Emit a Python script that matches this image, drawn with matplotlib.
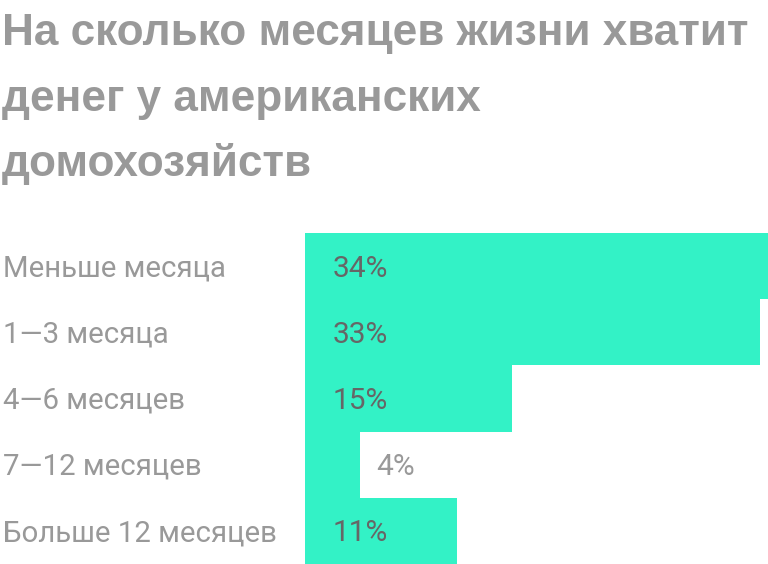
import matplotlib.pyplot as plt
import matplotlib.transforms as mtransforms

plt.rcParams['font.family'] = ['Roboto', 'DejaVu Sans']

title_lines = ["На сколько месяцев жизни хватит",
               "денег у американских",
               "домохозяйств"]
categories = ["Меньше месяца", "1—3 месяца", "4—6 месяцев",
              "7—12 месяцев", "Больше 12 месяцев"]
shares = [34, 33, 15, 4, 11]

W, H = 768, 564
bar_color = "#33F2C6"
gray = "#999999"
dark = "#666666"

fig = plt.figure(figsize=(W / 100, H / 100), dpi=100)
fig.patch.set_facecolor("white")

# plot area: bars start at x=305px, top of first bar at 233px
px_per_pct = 13.8
left = 305 / W
top = 233 / H
ax = fig.add_axes([left, 0, 1 - left, 1 - top])
ax.set_xlim(0, (W - 305) / px_per_pct)
ax.set_ylim(len(shares) - 0.5, -0.5)
ax.axis("off")

ypos = list(range(len(shares)))
ax.barh(ypos, shares, height=1.0, color=bar_color, linewidth=0)

# title
for i, line in enumerate(title_lines):
    fig.text(2 / W, 1 - (45.5 + 65.2 * i) / H, line, fontsize=31.8,
             fontweight="bold", color=gray, va="baseline", ha="left",
             family=["Liberation Sans", "DejaVu Sans"])

# category labels, baseline at row centre + half cap height
lab_trans = mtransforms.blended_transform_factory(fig.transFigure, ax.transData)
for y, cat in zip(ypos, categories):
    t = mtransforms.offset_copy(lab_trans, fig=fig, x=0, y=-7.3, units="points")
    ax.text(3 / W, y, cat, transform=t, fontsize=21.2, color=gray,
            va="baseline", ha="left")

# value labels
for y, v in zip(ypos, shares):
    if v >= 8:
        t = mtransforms.offset_copy(ax.transData, fig=fig, x=28 * 0.72,
                                    y=-7.5, units="points")
        ax.text(0, y, f"{v}%", transform=t, fontsize=21.5, color=dark,
                va="baseline", ha="left")
    else:
        t = mtransforms.offset_copy(ax.transData, fig=fig, x=16 * 0.72,
                                    y=-7.5, units="points")
        ax.text(v, y, f"{v}%", transform=t, fontsize=21.5, color=gray,
                va="baseline", ha="left")

fig.savefig("out.png", dpi=100)
